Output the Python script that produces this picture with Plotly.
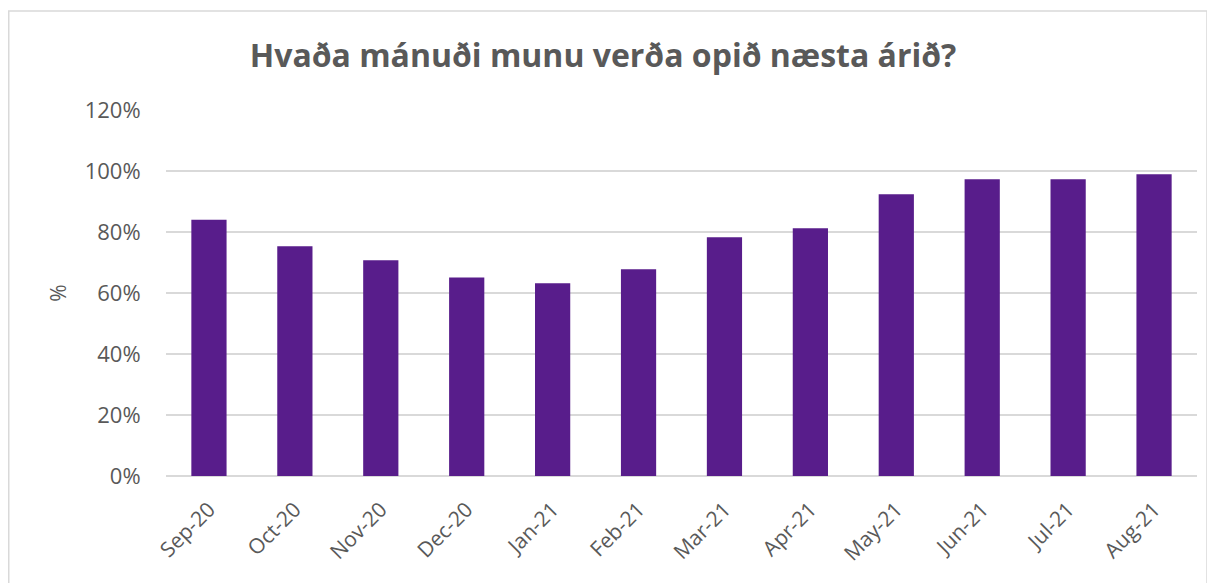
import plotly.graph_objects as go

months = ["Sep-20", "Oct-20", "Nov-20", "Dec-20", "Jan-21", "Feb-21",
          "Mar-21", "Apr-21", "May-21", "Jun-21", "Jul-21", "Aug-21"]
values = [0.84, 0.753, 0.707, 0.651, 0.632, 0.678,
          0.783, 0.812, 0.924, 0.973, 0.973, 0.989]
y_ticks = [0, 0.2, 0.4, 0.6, 0.8, 1.0, 1.2]
y_tick_labels = ["0%", "20%", "40%", "60%", "80%", "100%", "120%"]

title_text = "Hvaða mánuði munu verða opið næsta árið?"
grey = "#595959"

# page body has an 8px margin; figure coordinates are offset accordingly
L, T, PW, PH = 158, 102, 1031, 366
W, H = 1215, 583

fig = go.Figure()
fig.add_trace(go.Bar(
    x=months, y=values,
    width=0.41,
    marker=dict(color="#581d8b", line=dict(width=0)),
))

fig.update_layout(
    width=W, height=H,
    margin=dict(l=L, r=W - L - PW, t=T, b=H - T - PH),
    paper_bgcolor="white", plot_bgcolor="white",
    showlegend=False,
    font=dict(family="Open Sans", color=grey),
    title=dict(text="<b>" + title_text + "</b>", x=(603 - 8) / W, xanchor="center",
               y=1 - 48 / H, yanchor="middle",
               font=dict(family="Open Sans", size=32, color=grey)),
    xaxis=dict(tickangle=-45, tickfont=dict(size=21, color=grey),
               showgrid=False, showline=False,
               ticks="outside", ticklen=12, tickcolor="rgba(0,0,0,0)",
               range=[-0.5, 11.5]),
    yaxis=dict(range=[0, 1.2], tickvals=y_ticks, ticktext=y_tick_labels,
               tickfont=dict(size=22, color=grey),
               gridcolor="#d9d9d9", gridwidth=1.5,
               zeroline=True, zerolinecolor="#d9d9d9", zerolinewidth=1.5,
               showline=False, ticks="outside", ticklen=20, tickcolor="rgba(0,0,0,0)",
               title=dict(text="%", font=dict(size=21, color=grey), standoff=12)),
    shapes=[dict(type="rect", xref="paper", yref="paper",
                 x0=(0.75 - L) / PW, x1=(1199 - L) / PW,
                 y0=-1.0, y1=(T + PH - 3) / PH,
                 line=dict(color="#d9d9d9", width=1.5), fillcolor="rgba(0,0,0,0)",
                 layer="below")],
)

fig.write_html("out.html")
